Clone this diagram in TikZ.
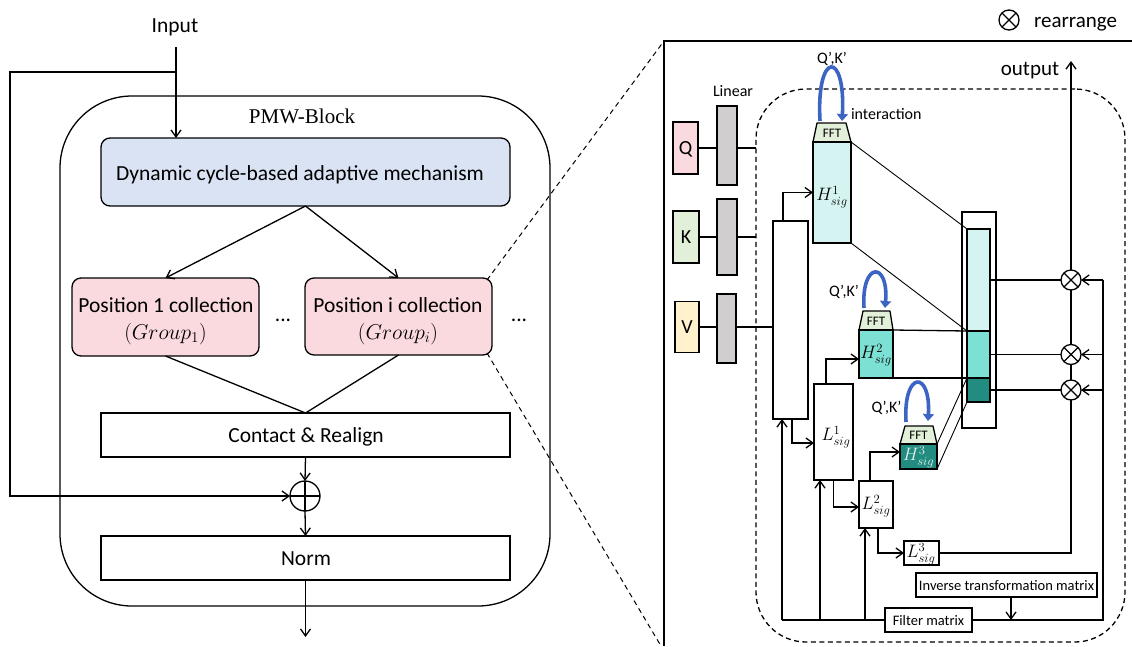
\RequirePackage{fix-cm}
\documentclass[tikz,border=0pt]{standalone}
\usepackage{fontspec}
\setmainfont{Carlito}
\newfontfamily\titleserif{Liberation Serif}
\usetikzlibrary{arrows.meta}

\definecolor{dynblue}{RGB}{218,227,243}
\definecolor{pospink}{RGB}{250,218,222}
\definecolor{kgreen}{RGB}{226,240,217}
\definecolor{vyellow}{RGB}{255,242,204}
\definecolor{lingray}{RGB}{208,206,206}
\definecolor{hone}{RGB}{213,243,240}
\definecolor{htwo}{RGB}{125,224,212}
\definecolor{hthree}{RGB}{34,140,128}
\definecolor{loopblue}{RGB}{60,100,195}

\begin{document}
\begin{tikzpicture}[x=1pt,y=-1pt,
  every node/.style={inner sep=0pt, outer sep=0pt},
  box/.style={draw, line width=1.3pt},
  conn/.style={line width=1.3pt},
  thinconn/.style={line width=0.9pt},
  arr/.style={line width=1.3pt, -{Straight Barb[length=7pt,width=10pt]}},
  loopq/.style={line width=3.6pt, draw=loopblue, -{Triangle[length=7pt,width=11pt]}},
  zoomdash/.style={line width=1pt, dash pattern=on 5pt off 4pt},
  lf/.style={font=\fontsize{21.5}{26}\selectfont},
  bigtxt/.style={font=\fontsize{21}{25}\selectfont},
  midtxt/.style={font=\fontsize{16}{19}\selectfont},
  smalltxt/.style={font=\fontsize{14.5}{17}\selectfont},
  ffttxt/.style={font=\fontsize{13}{15}\selectfont},
  qkv/.style={font=\fontsize{20}{24}\selectfont},
  sig/.style={font=\fontsize{18}{21}\selectfont},
  fftshape/.style={fill=kgreen, draw, line width=1.3pt, line join=round},
  xcirc/.style={circle, draw, line width=1.3pt, minimum size=20pt}
]
\useasboundingbox (0,0) rectangle (1132,646);

% ---------------- PMW block ----------------
\node[box, rounded corners=72pt, minimum width=490, minimum height=510] (pmw) at (305,351) {};
\node[font=\titleserif\fontsize{21}{25}\selectfont, anchor=base] (pmwlabel) at (302,123) {PMW-Block};

\node[lf, anchor=base] (input) at (175,32) {Input};
\coordinate (inTop) at (176,47);
\coordinate (br) at (176,72);
\coordinate (lc) at (10,72);

\node[box, fill=dynblue, rounded corners=9pt, minimum width=409, minimum height=68] (dyn) at (305.5,172) {};
\node[lf, anchor=base] (dyntext) at (300,180) {Dynamic cycle-based adaptive mechanism};

\node[box, fill=pospink, rounded corners=9pt, minimum width=187, minimum height=78] (pos1) at (165.5,317) {};
\node[lf, anchor=base] (pos1a) at (166,312) {Position 1 collection};
\node[lf, anchor=base] (pos1b) at (165.5,339) {$(Group_{1})$};

\node[box, fill=pospink, rounded corners=9pt, minimum width=187, minimum height=77] (posi) at (398.5,316.5) {};
\node[lf, anchor=base] (posia) at (398,312) {Position i collection};
\node[lf, anchor=base] (posib) at (398,339) {$(Group_{i})$};

\node[lf, anchor=base] (dotsa) at (283,321) {...};
\node[lf, anchor=base] (dotsb) at (519,321) {...};

\node[box, minimum width=409, minimum height=44] (contact) at (305.5,435) {};
\node[lf, anchor=base] (contacttext) at (306,442.5) {Contact \& Realign};

\node[circle, draw, line width=1.3pt, minimum size=30pt] (plus) at (305,496) {};
\draw[conn] (plus.north) -- (plus.south) (plus.west) -- (plus.east);

\node[box, minimum width=409, minimum height=44] (norm) at (305.5,558) {};
\node[lf, anchor=base] (normtext) at (306,565) {Norm};
\coordinate (outEnd) at (305.5,637);

\draw[arr] (inTop) -- (dyn.north -| inTop);
\draw[arr] (br) -- (lc) |- (plus.west);
\draw[arr] (dyn.south) -- (pos1.north);
\draw[arr] (dyn.south) -- (posi.north);
\draw[conn] (pos1.south) -- (contact.north);
\draw[conn] (posi.south) -- (contact.north);
\draw[arr] (contact.south) -- (plus.north);
\draw[arr] (plus.south) -- (norm.north);
\draw[arr] (norm.south) -- (outEnd);

% ---------------- detail panel ----------------
\coordinate (frBL) at (664,646);
\coordinate (frTL) at (664,41);
\coordinate (frTR) at (1132,41);
\coordinate (zEndLow) at (661,646);
\draw[conn] (frBL) -- (frTL) -- (frTR);
\draw[zoomdash] ([xshift=-5pt,yshift=-2pt]posi.north east) -- (frTL);
\draw[zoomdash] ([xshift=-5pt,yshift=2pt]posi.south east) -- (zEndLow);

% legend
\node[xcirc] (rr) at (1009,20) {};
\draw[conn] (rr.north west) -- (rr.south east) (rr.north east) -- (rr.south west);
\node[bigtxt, anchor=base west] (rrtext) at (1034,27) {rearrange};

% dashed frequency-decomposition area
\node[draw, line width=1.3pt, dash pattern=on 5pt off 3.5pt, rounded corners=50pt,
      minimum width=369, minimum height=553] (dbox) at (940.5,365.5) {};

% inputs and linear layers
\node[box, fill=pospink, minimum width=25, minimum height=52] (Q) at (685.5,148) {};
\node[qkv, anchor=base] (Qt) at (685.5,154) {Q};
\node[box, fill=kgreen, minimum width=26, minimum height=52] (K) at (686,237) {};
\node[qkv, anchor=base] (Kt) at (686,243.5) {K};
\node[box, fill=vyellow, minimum width=24, minimum height=51] (V) at (687,327) {};
\node[qkv, anchor=base] (Vt) at (687,333.5) {V};

\node[midtxt, anchor=base] (lintext) at (733,96) {Linear};
\node[box, fill=lingray, minimum width=20, minimum height=79] (Lin1) at (727,145.5) {};
\node[box, fill=lingray, minimum width=20, minimum height=76] (Lin2) at (727,237) {};
\node[box, fill=lingray, minimum width=19, minimum height=69] (Lin3) at (726.5,328.5) {};

\node[box, fill=white, minimum width=35, minimum height=198] (big) at (790.5,320) {};

\draw[conn] (Q.east) -- (Q.east -| Lin1.west) (Q.east -| Lin1.east) -- (Q.east -| dbox.west);
\draw[conn] (K.east) -- (K.east -| Lin2.west) (K.east -| Lin2.east) -- (K.east -| dbox.west);
\draw[conn] (V.east) -- (V.east -| Lin3.west) (V.east -| Lin3.east) -- (V.east -| big.west);

% high-frequency branches with FFT heads
\filldraw[fftshape] (817,123) -- (846,123) -- (851,142) -- (813,142) -- cycle;
\node[ffttxt, anchor=base] (fft1) at (832,137) {FFT};
\node[box, fill=hone, minimum width=38, minimum height=101] (H1) at (832,192.5) {};
\node[sig] (H1t) at (832,197) {$H^{1}_{sig}$};

\filldraw[fftshape] (863,311) -- (890,311) -- (893,330) -- (859,330) -- cycle;
\node[ffttxt, anchor=base] (fft2) at (876,325) {FFT};
\node[box, fill=htwo, minimum width=34, minimum height=48] (H2) at (876,354) {};
\node[sig] (H2t) at (876,355) {$H^{2}_{sig}$};

\filldraw[fftshape] (905,426) -- (933,426) -- (937,444) -- (900,444) -- cycle;
\node[ffttxt, anchor=base] (fft3) at (918.5,439.5) {FFT};
\node[box, fill=hthree, minimum width=37, minimum height=25] (H3) at (918.5,456.5) {};
\node[sig, text=white!88!hthree] (H3t) at (918.5,457) {$H^{3}_{sig}$};

% low-frequency branches
\node[box, minimum width=39, minimum height=96] (L1) at (833.5,432) {};
\node[sig] (L1t) at (836,437) {$L^{1}_{sig}$};
\node[box, minimum width=34, minimum height=47] (L2) at (876,504.5) {};
\node[sig] (L2t) at (876,506) {$L^{2}_{sig}$};
\node[box, minimum width=35, minimum height=24] (L3) at (921.5,553) {};
\node[sig] (L3t) at (921,554) {$L^{3}_{sig}$};

% matrices
\node[box, minimum width=181, minimum height=24] (inv) at (1006.5,585) {};
\node[smalltxt, anchor=base] (invt) at (1006.5,590) {Inverse transformation matrix};
\node[box, minimum width=87, minimum height=24] (filt) at (928.5,620) {};
\node[smalltxt, anchor=base] (filtt) at (928.5,625.5) {Filter matrix};

% interaction loops
\draw[loopq] (820,121) .. controls (816,50) and (846,50) .. (842,121);
\node[midtxt, anchor=base] (qk1) at (832,63) {Q’,K’};
\node[midtxt, anchor=base west] (inter) at (851,119) {interaction};
\draw[loopq] (864,308) .. controls (861,261) and (889,261) .. (885,308);
\node[midtxt, anchor=base] (qk2) at (844,296) {Q’,K’};
\draw[loopq] (906,422) .. controls (903,370) and (931,370) .. (928,421);
\node[midtxt, anchor=base] (qk3) at (886.5,412) {Q’,K’};

% decomposition connectors
\draw[arr] ([xshift=-7.5pt]big.north) |- (H1.west);
\draw[arr] ([xshift=1.5pt]big.south) |- ([yshift=-11pt]L1.west);
\draw[arr] ([xshift=-7.5pt]L1.north) |- ([yshift=-5pt]H2.west);
\draw[arr] (L1.south) |- ([yshift=-2.5pt]L2.west);
\draw[arr] ([xshift=-6pt]L2.north) |- ([yshift=4.5pt]H3.west);
\draw[arr] ([xshift=2pt]L2.south) |- (L3.west);

% concatenated spectrum column
\node[box, fill=white, minimum width=34, minimum height=216] (colbox) at (979,320) {};
\node[box, fill=hone, minimum width=23, minimum height=102] (c1) at (978.5,280) {};
\node[box, fill=htwo, minimum width=23, minimum height=47] (c2) at (978.5,354.5) {};
\node[box, fill=hthree, minimum width=23, minimum height=24] (c3) at (978.5,390) {};

\draw[thinconn] (H1.north east) -- (c1.north west);
\draw[thinconn] (H1.south east) -- (c1.south west);
\draw[conn] (H2.north east) -- (c2.north west);
\draw[conn] (H2.south east) -- (c2.south west);
\draw[thinconn] (H3.north east) -- (c3.north west);
\draw[thinconn] (H3.south east) -- (c3.south west);

% rearrange operators
\node[xcirc, fill=white] (m1) at (1071,280) {};
\node[xcirc, fill=white] (m2) at (1071,354.5) {};
\node[xcirc, fill=white] (m3) at (1071,390) {};
\foreach \m in {m1,m2,m3}{
  \draw[conn] (\m.north west) -- (\m.south east) (\m.north east) -- (\m.south west);
}
\draw[conn] (c1.east) -- (m1.west);
\draw[conn] (c2.east) -- (m2.west);
\draw[conn] (c3.east) -- (m3.west);
\draw[conn] (m3.north) -- (m2.south) (m2.north) -- (m1.south);
\draw[conn] (L3.east) -| (m3.south);

\coordinate (outTip) at (1071,61);
\draw[arr] (m1.north) -- (outTip);
\node[bigtxt, anchor=base] (outtext) at (1030,75) {output};

% filter matrix distribution
\coordinate (fL) at (782,620);
\coordinate (f1) at (820,620);
\coordinate (f2) at (865,620);
\coordinate (fI) at (1011,620);
\coordinate (fR) at (1103,620);
\draw[conn] (fL) -- (filt.west);
\draw[conn] (filt.east) -- (fR) -- (fR |- m1.east);
\draw[arr] (fL) -- (fL |- big.south);
\draw[arr] (f1) -- (f1 |- L1.south);
\draw[arr] (f2) -- (f2 |- L2.south);
\draw[arr] (fI |- inv.south) -- (fI);
\draw[arr] (fR |- m1.east) -- (m1.east);
\draw[arr] (fR |- m2.east) -- (m2.east);
\draw[arr] (fR |- m3.east) -- (m3.east);
\end{tikzpicture}
\end{document}
